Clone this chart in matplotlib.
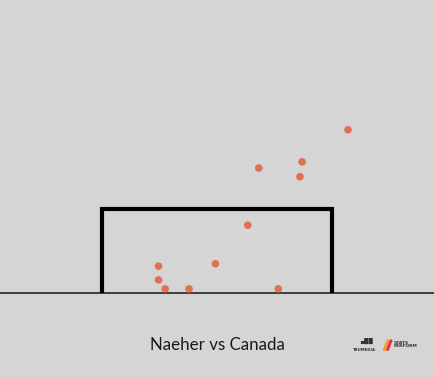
import matplotlib
matplotlib.use("Agg")
import matplotlib.pyplot as plt
from matplotlib.patches import Polygon

# Shot locations on goal (metres; x from goal centre, y above ground)
shot_x = [0.98, -1.86, -1.86, -1.65, -0.89, -0.05, 1.95, 1.33, 2.71, 2.64, 4.17]
shot_y = [1.97, 0.78, 0.38, 0.12, 0.12, 0.85, 0.12, 3.63, 3.81, 3.38, 4.74]
title = "Naeher vs Canada"
goal_half_width = 3.66
goal_height = 2.44

bg = "#d5d5d5"
fig = plt.figure(figsize=(4.35, 3.77), dpi=100, facecolor=bg)
ax = fig.add_axes([0, 0, 1, 1])
ax.set_facecolor(bg)
ax.set_xlim(-6.907, 6.939)
ax.set_ylim(-2.44, 8.512)
ax.axis("off")

# ground line
ax.axhline(0, color="#333333", lw=1.3, zorder=1)
# goal frame
ax.plot([-goal_half_width, -goal_half_width, goal_half_width, goal_half_width],
        [0, goal_height, goal_height, 0], color="black", lw=3,
        solid_joinstyle="miter", solid_capstyle="butt", zorder=2)

ax.scatter(shot_x, shot_y, s=30, color="#e07052", edgecolors="none", zorder=3)

fig.text(0.5, 0.085, title, ha="center", va="center", fontsize=12.2,
         family=["Lato", "DejaVu Sans"], color="#1a1a1a")

# logos (approximated)
fig.text(0.837, 0.071, "TRUMEDIA", ha="center", va="center", fontsize=2.8,
         family="DejaVu Sans", color="#333333", weight="bold")
fig.text(0.842, 0.095, "\u2584\u2588\u2588", ha="center", va="center", fontsize=4,
         family="DejaVu Sans", color="#333333")
fig.text(0.905, 0.086, "STATS\nPERFORM", ha="left", va="center", fontsize=3.2,
         family="DejaVu Sans", color="#333333", weight="bold", linespacing=0.9)
ax.add_patch(Polygon([[5.30, -1.66], [5.42, -1.37], [5.47, -1.37], [5.35, -1.66]],
                     closed=True, color="#f0a020", zorder=3))
ax.add_patch(Polygon([[5.40, -1.66], [5.52, -1.37], [5.57, -1.37], [5.45, -1.66]],
                     closed=True, color="#e03050", zorder=3))

fig.savefig("out.png", dpi=100, facecolor=bg)
